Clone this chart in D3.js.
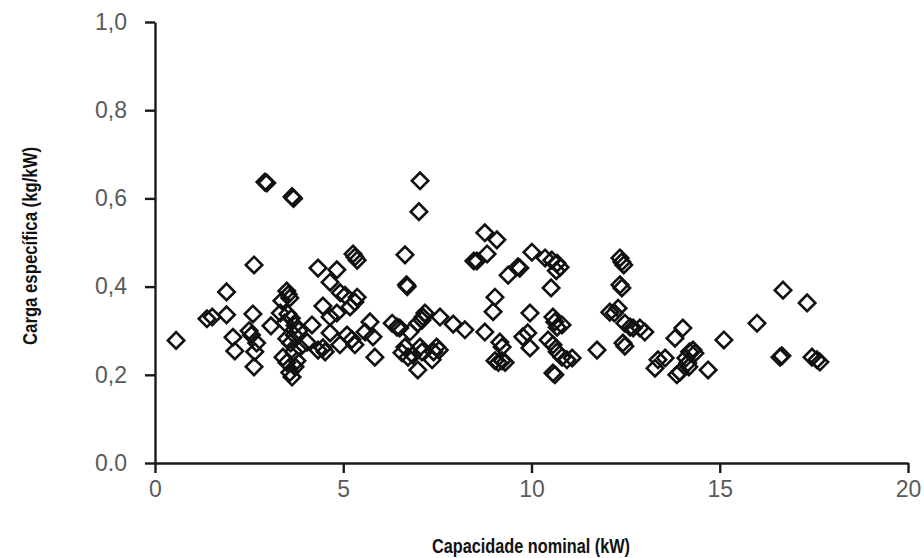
<!DOCTYPE html>
<html>
<head>
<meta charset="utf-8">
<script src="https://cdn.jsdelivr.net/npm/d3@7"></script>
<style>
  html, body { margin: 0; padding: 0; background: #fff; }
  #chart { width: 924px; height: 558px; }
  .tick text { font-family: "Liberation Sans", Arial, sans-serif; font-size: 23px; fill: #5a5a5a; }
  .axis path, .axis line { stroke: #1a1a1a; stroke-width: 2.4px; }
  .title { font-family: "Liberation Sans", Arial, sans-serif; font-weight: bold; font-size: 20px; fill: #111; }
</style>
</head>
<body>
<div id="chart"></div>
<script>
// capacidade nominal (kW) vs carga especifica (kg/kW)
const capacidade = [
  0.56, 1.38, 1.52, 1.90, 1.90, 2.07, 2.12, 2.63, 2.60, 2.50,
  2.56, 2.70, 2.65, 2.63, 2.92, 2.97, 3.64, 3.68, 3.08, 3.50,
  3.54, 3.58, 3.37, 3.33, 3.53, 3.62, 3.72, 3.82, 3.45, 3.50,
  3.60, 3.70, 3.40, 3.50, 3.58, 3.64, 3.72, 3.77, 3.68, 3.85,
  4.04, 4.17, 4.33, 4.46, 4.65, 4.65, 4.65, 4.83, 4.83, 4.33,
  4.46, 4.52, 4.91, 4.92, 5.05, 5.18, 5.10, 5.23, 5.31, 5.26,
  5.31, 5.37, 5.37, 5.31, 5.58, 5.71, 5.79, 5.84, 6.30, 6.43,
  6.64, 6.68, 6.70, 6.50, 6.77, 6.64, 6.56, 6.72, 6.85, 7.04,
  7.01, 7.17, 7.12, 7.09, 6.98, 6.98, 7.04, 7.09, 7.36, 7.40,
  7.48, 7.55, 7.57, 7.92, 8.23, 8.47, 8.55, 8.76, 8.82, 9.08,
  8.76, 9.03, 8.98, 9.38, 9.64, 9.16, 9.22, 9.03, 9.12, 9.22,
  9.30, 9.77, 10.01, 9.69, 10.36, 10.54, 10.68, 10.76, 10.66, 10.52,
  9.96, 9.90, 9.96, 10.57, 10.62, 10.68, 10.81, 10.44, 10.57, 10.68,
  10.81, 10.94, 11.08, 10.57, 10.62, 11.74, 12.08, 12.20, 12.30, 12.35,
  12.40, 12.45, 12.35, 12.40, 12.48, 12.62, 12.70, 12.88, 13.01, 12.43,
  12.48, 13.36, 13.55, 13.28, 13.81, 14.02, 14.20, 14.29, 14.34, 14.10,
  14.15, 14.18, 13.86, 13.94, 14.69, 15.11, 15.99, 16.68, 17.32, 16.60,
  16.65, 17.45, 17.58, 17.66
];
const carga = [
  0.278, 0.327, 0.331, 0.388, 0.336, 0.285, 0.254, 0.449, 0.338, 0.300,
  0.290, 0.272, 0.252, 0.218, 0.637, 0.635, 0.604, 0.600, 0.311, 0.390,
  0.382, 0.374, 0.368, 0.340, 0.338, 0.328, 0.312, 0.300, 0.318, 0.282,
  0.272, 0.290, 0.240, 0.228, 0.205, 0.195, 0.218, 0.232, 0.252, 0.262,
  0.274, 0.313, 0.442, 0.356, 0.410, 0.331, 0.295, 0.438, 0.340, 0.256,
  0.261, 0.252, 0.268, 0.386, 0.380, 0.354, 0.290, 0.280, 0.268, 0.474,
  0.467, 0.460, 0.376, 0.365, 0.297, 0.320, 0.286, 0.240, 0.317, 0.308,
  0.472, 0.404, 0.400, 0.306, 0.297, 0.263, 0.250, 0.240, 0.245, 0.640,
  0.570, 0.340, 0.331, 0.324, 0.317, 0.211, 0.263, 0.252, 0.234, 0.252,
  0.263, 0.256, 0.331, 0.315, 0.302, 0.458, 0.458, 0.522, 0.474, 0.506,
  0.297, 0.376, 0.343, 0.426, 0.445, 0.274, 0.263, 0.232, 0.228, 0.232,
  0.228, 0.286, 0.478, 0.442, 0.465, 0.460, 0.453, 0.444, 0.436, 0.397,
  0.340, 0.295, 0.261, 0.331, 0.320, 0.308, 0.313, 0.279, 0.268, 0.252,
  0.240, 0.234, 0.238, 0.204, 0.200, 0.256, 0.342, 0.340, 0.351, 0.465,
  0.456, 0.449, 0.404, 0.397, 0.317, 0.308, 0.306, 0.306, 0.297, 0.272,
  0.265, 0.234, 0.238, 0.215, 0.283, 0.306, 0.252, 0.256, 0.249, 0.238,
  0.227, 0.218, 0.200, 0.206, 0.211, 0.279, 0.317, 0.392, 0.363, 0.240,
  0.243, 0.240, 0.234, 0.229
];
const xTicks = [0, 5, 10, 15, 20];
const yTicks = [0, 0.2, 0.4, 0.6, 0.8, 1.0];
const yTickLabels = ["0.0", "0,2", "0,4", "0,6", "0,8", "1,0"];

const width = 924, height = 558;
const margin = { top: 22, right: 16, bottom: 95, left: 155 };
const innerW = width - margin.left - margin.right;
const innerH = height - margin.top - margin.bottom;

const svg = d3.select("#chart").append("svg")
  .attr("width", width).attr("height", height);
const g = svg.append("g").attr("transform", `translate(${margin.left},${margin.top})`);

const x = d3.scaleLinear().domain([0, 20]).range([0, innerW]);
const y = d3.scaleLinear().domain([0, 1]).range([innerH, 0]);

// points: open diamonds (rotated squares)
const diamond = d3.symbol().type(d3.symbolSquare).size(135);
const points = capacidade.map((c, i) => ({ c, k: carga[i] }));
g.append("g").selectAll("path")
  .data(points)
  .join("path")
  .attr("d", diamond)
  .attr("transform", d => `translate(${x(d.c)},${y(d.k)}) rotate(45)`)
  .attr("fill", "none")
  .attr("stroke", "#111")
  .attr("stroke-width", 2.6);

// axes
const xAxis = d3.axisBottom(x).tickValues(xTicks).tickFormat(d3.format("d"))
  .tickSize(10).tickSizeOuter(0).tickPadding(8);
const yAxis = d3.axisLeft(y).tickValues(yTicks)
  .tickFormat((d, i) => yTickLabels[i]).tickSize(10).tickSizeOuter(0).tickPadding(18);

g.append("g").attr("class", "axis")
  .attr("transform", `translate(0,${innerH})`).call(xAxis);
g.append("g").attr("class", "axis").call(yAxis);

// titles (condensed look via textLength)
svg.append("text").attr("class", "title")
  .attr("x", 531).attr("y", 553)
  .attr("text-anchor", "middle")
  .attr("textLength", 198).attr("lengthAdjust", "spacingAndGlyphs")
  .text("Capacidade nominal (kW)");

svg.append("text").attr("class", "title")
  .attr("transform", `translate(37,246) rotate(-90)`)
  .attr("text-anchor", "middle")
  .attr("textLength", 198).attr("lengthAdjust", "spacingAndGlyphs")
  .text("Carga específica (kg/kW)");
</script>
</body>
</html>
